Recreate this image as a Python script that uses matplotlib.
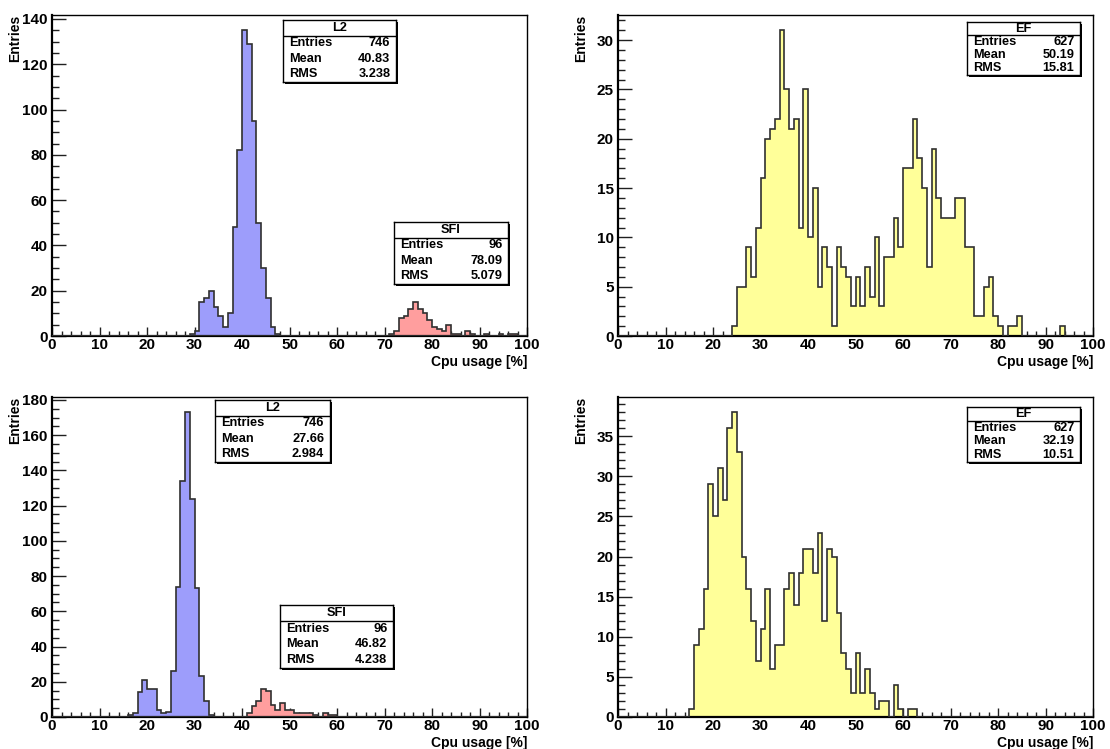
import numpy as np
import matplotlib
matplotlib.use("Agg")
import matplotlib.pyplot as plt
from matplotlib.ticker import MultipleLocator

plt.rcParams['font.family'] = ['Liberation Sans', 'DejaVu Sans']
plt.rcParams['font.weight'] = 'bold'

# ---------------- data (bin width 1 %, 0..100) ----------------
# top row
L2_top_start = 29
L2_top_counts = [1, 2, 15, 17, 20, 13, 9, 4, 10, 48, 82, 135, 129, 95, 50, 30, 17, 4, 1]
SFI_top_start = 71
SFI_top_counts = [1, 2, 8, 9, 12, 15, 12, 10, 7, 4, 3, 2, 5, 1, 1, 0, 2, 1, 0, 0, 1, 0, 0, 1, 0, 1, 1]
EF_top_start = 24
EF_top_counts = [1, 5, 5, 9, 6, 11, 16, 20, 21, 22, 31, 25, 21, 22, 11, 25, 10, 15, 5, 9,
                 7, 1, 9, 7, 6, 3, 6, 3, 7, 4, 10, 3, 8, 8, 12, 9, 17, 17, 22, 18,
                 15, 7, 19, 14, 12, 12, 12, 14, 14, 9, 9, 2, 2, 5, 6, 2, 1, 0, 1, 1,
                 2, 0, 0, 0, 0, 0, 0, 0, 0, 1]
# bottom row
L2_bot_start = 16
L2_bot_counts = [1, 2, 14, 21, 16, 16, 4, 2, 3, 26, 74, 134, 173, 124, 73, 23, 9, 1]
SFI_bot_start = 41
SFI_bot_counts = [2, 6, 9, 16, 15, 7, 4, 8, 4, 4, 2, 2, 2, 2, 1, 0, 2, 1, 1]
EF_bot_start = 15
EF_bot_counts = [1, 9, 11, 16, 29, 25, 31, 27, 36, 38, 33, 20, 16, 12, 7, 11, 16, 6, 9, 9,
                 16, 18, 14, 18, 21, 21, 18, 23, 12, 21, 20, 13, 8, 6, 3, 8, 3, 6, 3, 1,
                 2, 2, 0, 4, 1, 0, 1, 1]

# stats box texts
stats_L2_top = ("L2", "746", "40.83", "3.238")
stats_SFI_top = ("SFI", "96", "78.09", "5.079")
stats_EF_top = ("EF", "627", "50.19", "15.81")
stats_L2_bot = ("L2", "746", "27.66", "2.984")
stats_SFI_bot = ("SFI", "96", "46.82", "4.238")
stats_EF_bot = ("EF", "627", "32.19", "10.51")

x_label = "Cpu usage [%]"
y_label = "Entries"

# ---------------- styling ----------------
EDGES = np.arange(0, 101, 1)
C_L2 = '#9d9dfb'
C_SFI = '#ff9e9e'
C_EF = '#ffff99'

W, H = 1110, 749
fig = plt.figure(figsize=(W / 100, H / 100), dpi=100)


def full(start, counts):
    v = np.zeros(100)
    v[start:start + len(counts)] = counts
    return v


def px_axes(x0, y0, x1, y1):
    return fig.add_axes([x0 / W, 1 - y1 / H, (x1 - x0) / W, (y1 - y0) / H])


def draw_hist(ax, vals, color):
    ax.stairs(vals, EDGES, fill=True, facecolor=color, edgecolor='none', zorder=2)
    ax.stairs(vals, EDGES, fill=False, baseline=0, color='#303030', lw=1.2, zorder=3)


def stats_box(x0, y0, x1, y1, st):
    sh = fig.add_axes([(x0 + 2) / W, 1 - (y1 + 2) / H, (x1 - x0) / W, (y1 - y0) / H])
    sh.set_facecolor('black')
    sh.set_xticks([]); sh.set_yticks([])
    for s in sh.spines.values():
        s.set_visible(False)
    b = fig.add_axes([x0 / W, 1 - y1 / H, (x1 - x0) / W, (y1 - y0) / H])
    b.set_xlim(0, 1); b.set_ylim(0, 4)
    b.set_facecolor('white')
    b.set_xticks([]); b.set_yticks([])
    for s in b.spines.values():
        s.set_linewidth(1.0)
        s.set_color('black')
    b.axhline(3, color='black', lw=1.0)
    fs = 9.2
    b.text(0.5, 3.5, st[0], ha='center', va='center', fontsize=fs, fontweight='bold')
    labels = ["Entries", "Mean", "RMS"]
    for i, (lab, val) in enumerate(zip(labels, st[1:])):
        yy = 2.5 - i
        b.text(0.05, yy, lab, ha='left', va='center', fontsize=fs, fontweight='bold')
        b.text(0.95, yy, val, ha='right', va='center', fontsize=fs, fontweight='bold')


def setup_axes(ax, ymax, ymajor, yminor):
    ax.set_xlim(0, 100)
    ax.set_ylim(0, ymax)
    ax.xaxis.set_major_locator(MultipleLocator(10))
    ax.xaxis.set_minor_locator(MultipleLocator(2))
    ax.yaxis.set_major_locator(MultipleLocator(ymajor))
    ax.yaxis.set_minor_locator(MultipleLocator(yminor))
    ax.tick_params(which='both', direction='in', top=False, right=False,
                   labelsize=11, width=1.0, color='#202020')
    ax.tick_params(axis='x', which='major', length=6.5, pad=1.5)
    ax.tick_params(axis='x', which='minor', length=3.3)
    ax.tick_params(axis='y', which='major', length=10, pad=3)
    ax.tick_params(axis='y', which='minor', length=5)
    for lab in ax.get_xticklabels() + ax.get_yticklabels():
        lab.set_fontweight('bold')
    for s in ax.spines.values():
        s.set_linewidth(1.0)
    ax.spines['bottom'].set_linewidth(1.6)
    ax.spines['left'].set_linewidth(1.6)
    ax.set_xlabel(x_label, fontsize=10, fontweight='bold', loc='right')
    ax.set_ylabel(y_label, fontsize=10, fontweight='bold', loc='top')
    ax.xaxis.set_label_coords(1.0, -0.058)
    ax.yaxis.set_label_coords(-0.063, 1.0)


# top-left
ax1 = px_axes(52, 15, 527, 336)
l2t = full(L2_top_start, L2_top_counts)
sft = full(SFI_top_start, SFI_top_counts)
draw_hist(ax1, l2t, C_L2)
draw_hist(ax1, sft, C_SFI)
setup_axes(ax1, 1.05 * l2t.max(), 20, 5)

# top-right
ax2 = px_axes(618, 15, 1093, 336)
eft = full(EF_top_start, EF_top_counts)
draw_hist(ax2, eft, C_EF)
setup_axes(ax2, 1.05 * eft.max(), 5, 1)

# bottom-left
ax3 = px_axes(52, 397, 527, 717)
l2b = full(L2_bot_start, L2_bot_counts)
sfb = full(SFI_bot_start, SFI_bot_counts)
draw_hist(ax3, l2b, C_L2)
draw_hist(ax3, sfb, C_SFI)
setup_axes(ax3, 1.05 * l2b.max(), 20, 5)

# bottom-right
ax4 = px_axes(618, 397, 1093, 717)
efb = full(EF_bot_start, EF_bot_counts)
draw_hist(ax4, efb, C_EF)
setup_axes(ax4, 1.05 * efb.max(), 5, 1)

stats_box(283, 20, 396, 82, stats_L2_top)
stats_box(394, 222, 508, 284, stats_SFI_top)
stats_box(967, 22, 1080, 75, stats_EF_top)
stats_box(215, 400, 330, 462, stats_L2_bot)
stats_box(280, 605, 393, 668, stats_SFI_bot)
stats_box(967, 407, 1080, 462, stats_EF_bot)

fig.savefig("out.png", dpi=100)
